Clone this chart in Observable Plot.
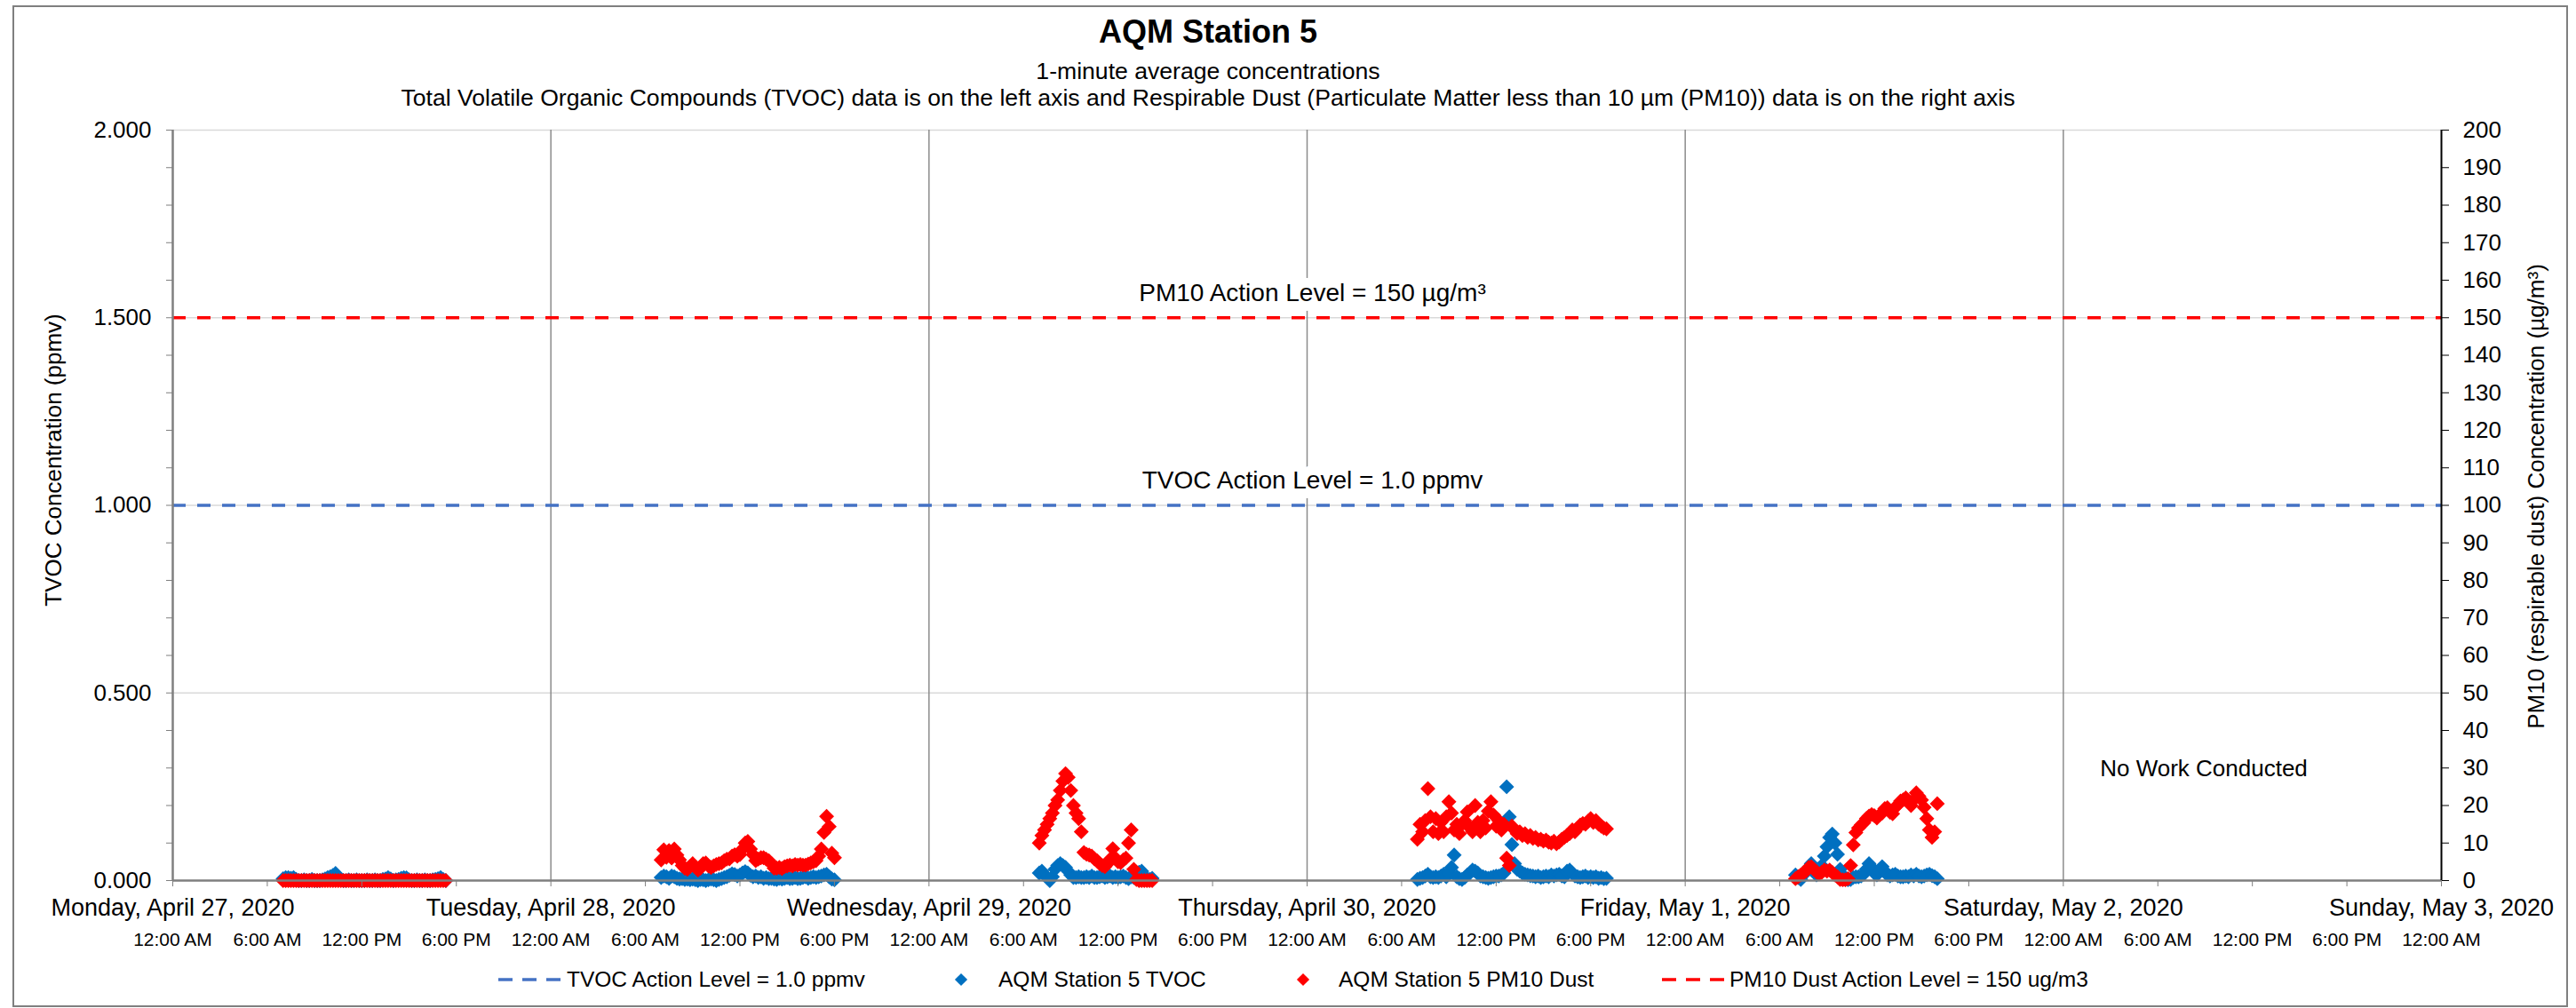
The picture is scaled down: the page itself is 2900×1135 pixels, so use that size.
<!DOCTYPE html>
<html>
<head>
<meta charset="utf-8">
<script src="https://cdn.jsdelivr.net/npm/d3@7"></script>
<script src="https://cdn.jsdelivr.net/npm/@observablehq/plot@0.6"></script>
<style>
  html, body { margin: 0; padding: 0; background: #fff; }
  #chart { position: relative; width: 2900px; height: 1135px; font-family: "Liberation Sans", Arial, sans-serif; color: #000; overflow: hidden; }
  #frame { position: absolute; left: 14px; top: 6px; width: 2877px; height: 1128px; border: 2px solid #7f7f7f; box-sizing: border-box; }
  .ttl { position: absolute; left: 0; width: 2720px; text-align: center; white-space: nowrap; }
  #title { top: 18px; font-size: 36px; line-height: 36px; font-weight: bold; }
  #sub1 { top: 67px; font-size: 26.6px; line-height: 26px; }
  #sub2 { top: 97px; font-size: 26.6px; line-height: 26px; }
  #plot { position: absolute; left: 0; top: 130px; }
  .rot { position: absolute; white-space: nowrap; font-size: 26px; line-height: 26px; transform: translate(-50%, -50%) rotate(-90deg); }
  .leg { position: absolute; top: 1091px; font-size: 24.5px; line-height: 24px; white-space: nowrap; }
  #legsym { position: absolute; left: 0; top: 1080px; }
</style>
</head>
<body>
<div id="chart">
  <div id="frame"></div>
  <div id="title" class="ttl"></div>
  <div id="sub1" class="ttl"></div>
  <div id="sub2" class="ttl"></div>
  <div id="plot"></div>
  <div id="ylabL" class="rot" style="left:60px; top:518px;"></div>
  <div id="ylabR" class="rot" style="left:2855px; top:559px;"></div>
  <svg id="legsym" width="2900" height="46"></svg>
  <div id="leg1" class="leg" style="left:638px;"></div>
  <div id="leg2" class="leg" style="left:1124px;"></div>
  <div id="leg3" class="leg" style="left:1507px;"></div>
  <div id="leg4" class="leg" style="left:1947px;"></div>
</div>
<script>
// ---------------- texts ----------------
const TITLE = "AQM Station 5";
const SUBTITLE1 = "1-minute average concentrations";
const SUBTITLE2 = "Total Volatile Organic Compounds (TVOC) data is on the left axis and Respirable Dust (Particulate Matter less than 10 µm (PM10)) data is on the right axis";
const Y_LEFT_LABEL = "TVOC Concentration (ppmv)";
const Y_RIGHT_LABEL = "PM10 (respirable dust) Concentration (µg/m³)";
const LEGEND_LABELS = ["TVOC Action Level = 1.0 ppmv", "AQM Station 5 TVOC", "AQM Station 5 PM10 Dust", "PM10 Dust Action Level = 150 ug/m3"];
const PM10_LEVEL_TEXT = "PM10 Action Level = 150 µg/m³";
const TVOC_LEVEL_TEXT = "TVOC Action Level = 1.0 ppmv";
const NO_WORK_TEXT = "No Work Conducted";

// ---------------- axes / categories ----------------
const DAY_LABELS = ["Monday, April 27, 2020", "Tuesday, April 28, 2020", "Wednesday, April 29, 2020",
  "Thursday, April 30, 2020", "Friday, May 1, 2020", "Saturday, May 2, 2020", "Sunday, May 3, 2020"];
const TIME_LABELS = ["12:00 AM", "6:00 AM", "12:00 PM", "6:00 PM"];
const LEFT_MAJOR_TICKS = [0, 0.5, 1.0, 1.5, 2.0];
const LEFT_MINOR_TICKS = [0, 0.1, 0.2, 0.3, 0.4, 0.5, 0.6, 0.7, 0.8, 0.9, 1.0, 1.1, 1.2, 1.3, 1.4, 1.5, 1.6, 1.7, 1.8, 1.9, 2.0];
const RIGHT_TICKS = [0, 10, 20, 30, 40, 50, 60, 70, 80, 90, 100, 110, 120, 130, 140, 150, 160, 170, 180, 190, 200];
const TVOC_ACTION = 1.0;   // ppmv (left axis)
const PM10_ACTION = 150;   // µg/m³ (right axis)
const RIGHT_PER_LEFT = 100; // 200 µg/m³ on right = 2.000 ppmv on left

// ---------------- data (10-minute readings from the picture) ----------------
const STEP_MIN = 10;
const monStart = Date.UTC(2020, 3, 27, 7, 0);
const tueStart = Date.UTC(2020, 3, 28, 7, 0);
const wedStart = Date.UTC(2020, 3, 29, 7, 0);
const thuStart = Date.UTC(2020, 3, 30, 7, 0);
const friStart = Date.UTC(2020, 4, 1, 7, 0);

const monTVOC = [.005,.008,.008,.006,.008,.003, 0,0,.002,0,0,.003, 0,0,0,.002,.004,.008,
  .010,.014,.019,.008,.003,0, 0,.002,0,0,.002,0, 0,0,.002,0,0,.002, 0,0,.003,.004,.008,.004,
  0,.002,.003,.006,.008,.007, .002,0,0,.002,0,0, .002,0,0,.002,.003,.005, .008,.003,0];
const monPM10 = [0,0,0,0,0,0, 0,0,0,0,0,0, 0,0,0,0,0,0, 0,0,0,0,0,0, 0,0,0,0,0,0, 0,0,0,0,0,0,
  0,0,0,0,0,0, 0,0,0,0,0,0, 0,0,0,0,0,0, 0,0,0,0,0,0, 0,0,0];

const tueTVOC = [.008,.012,.010,.006,.012,.010, .006,.004,.005,.003,.004,.002, .004,.002,0,.003,.002,0,
  .002,.004,.002,0,.003,.005, .008,.010,.014,.018,.016,.012, .015,.020,.024,.020,.014,.010,
  .012,.008,.010,.006,.008,.005, .006,.004,.003,.006,.004,.006, .008,.005,.006,.008,.005,.006,
  .008,.010,.006,.008,.010,.008, .010,.012,.015,.017,.010,.004, .002];
const tuePM10 = [5.5,8.2,6.2,8.0,6.0,8.4, 6.8,5.5,4.0,3.3,3.0,3.7, 4.5,3.7,2.8,3.3,4.5,4.7,
  3.9,3.5,3.9,4.3,4.5,4.7, 5.3,5.7,5.8,6.5,6.9,6.5, 6.9,8.4,10.0,10.4,8.4,6.9,
  5.3,5.7,6.1,6.1,5.7,5.3, 4.5,3.3,3.3,3.5,3.2,3.7, 3.9,4.1,3.9,4.3,4.1,4.3,
  4.1,4.1,4.4,4.7,5.0,5.3, 6.5,8.4,12.8,17.1,14.4,7.3, 6.1];

const wedTVOC = [.020,.025,.015,.008,0,.010, .030,.040,.045,.040,.035,.025, .015,.008,.008,.010,.008,.008,
  .010,.008,.012,.008,.008,.010, .012,.008,.010,.012,.008,.010, .008,.010,.012,.008,.005,.010,
  .008,.015,.022,.025,.012,.005, .003,.006];
const wedPM10 = [10,12,13.5,15,16.5,18, 20,21.5,24,26.5,28.5,27.5, 24,20,18,16.5,13,7.5,
  7,6.8,6.5,5.8,5.3,4.5, 4,3.7,4.5,5.7,8.5,6, 5,4.8,5.5,6,10,13.5,
  3,0.3,0,0,0,0, 0,0];

const thuTVOC = [.003,.006,.008,.012,.017,.010, .008,.010,.008,.012,.017,.010, .020,.035,.068,.010,.005,.003,
  .008,.015,.020,.028,.025,.020, .012,.010,.008,.006,.008,.010, .012,.012,.015,.020,.250,.170,
  .096,.045,.030,.025,.020,.017, .015,.013,.012,.010,.012,.008, .010,.012,.010,.015,.012,.015,
  .017,.012,.010,.025,.028,.020, .012,.010,.008,.010,.012,.008, .010,.008,.010,.006,.008,.005, .006];
const thuPM10 = [11,15,13,16,24.5,17, 13,16.5,12.5,15.5,13,17, 21,18,13.5,15,12.5,15,
  16,18.3,14,13,20,15.5, 13,16,14,18.5,21,17.5, 14.5,16,13.5,15,6,4,
  14.5,13.5,12.5,13,12,12.5, 11.5,12,11.2,11.5,10.8,11, 10.5,10.8,10.2,10,10.5,9.8,
  10.3,11,11.5,12,12.5,13.5, 13,14,14.8,15.2,15,15.8, 16.5,15.5,16,15,14.5,14, 13.8];

const friTVOC = [.015,.008,.003,.015,.025,.035, .045,.030,.015,.020,.040,.065, .090,.115,.124,.100,.070,.030,
  .015,.005,.002,.003,.008,.010, .010,.012,.017,.030,.045,.035, .020,.015,.025,.037,.025,.015,
  .012,.015,.017,.012,.010,.010, .012,.010,.015,.012,.017,.012, .010,.012,.015,.017,.013,.010, .005];
const friPM10 = [.5,1,1.5,2,2.5,3.5, 3.7,3,2.3,1.8,2.2,2.8, 2.5,2.8,2.2,1.5,1,.3,
  .2,.2,.5,4,9.5,12.8, 14,14.8,15.4,16.5,17.2,17.6, 17.3,16.7,17.5,18,19.2,19.4,
  18.2,17.8,19.5,20.2,21.2,21.5, 22,21.2,20,21.5,23.4,22.5, 21.5,19.5,16.5,13.5,11.5,13, 20.5];

// ---------------- colours ----------------
const TVOC_COLOR = "#0070C0";
const PM10_COLOR = "#FF0000";
const TVOC_LINE_COLOR = "#4472C4";
const PM10_LINE_COLOR = "#FF0000";

// ---------------- build tables ----------------
const STEP_MS = STEP_MIN * 60000;
function series(start, values) { return values.map((v, i) => ({ t: new Date(start + i * STEP_MS), v })); }
const tvocRows = [
  ...series(monStart, monTVOC), ...series(tueStart, tueTVOC), ...series(wedStart, wedTVOC),
  ...series(thuStart, thuTVOC), ...series(friStart, friTVOC)];
const pm10Rows = [
  ...series(monStart, monPM10), ...series(tueStart, tuePM10), ...series(wedStart, wedPM10),
  ...series(thuStart, thuPM10), ...series(friStart, friPM10)];

const X0 = Date.UTC(2020, 3, 27), DAY = 864e5;
const dayTicks = DAY_LABELS.map((_, i) => new Date(X0 + i * DAY));
const sixHourTicks = d3.range(0, 6 * 4 + 1).map(i => new Date(X0 + i * DAY / 4));
const xDomain = [dayTicks[0], dayTicks[dayTicks.length - 1]];

const annotations = [
  { t: dayTicks[3], y: PM10_ACTION / RIGHT_PER_LEFT, text: PM10_LEVEL_TEXT },
  { t: dayTicks[3], y: TVOC_ACTION, text: TVOC_LEVEL_TEXT }
];
const noWork = [{ t: new Date(Date.UTC(2020, 4, 2, 8, 55)), y: 0.298, text: NO_WORK_TEXT }];

const DIAMOND_R = 7.6;
const annoStyle = { x: "t", y: "y", dy: -28, dx: 6, text: "text", fontSize: 28 };

const chart = Plot.plot({
  width: 2900, height: 950,
  marginLeft: 194, marginRight: 152, marginTop: 16, marginBottom: 89,
  style: { fontFamily: "'Liberation Sans', Arial, sans-serif", fontSize: "26px", background: "transparent", overflow: "visible" },
  x: { type: "utc", domain: xDomain },
  y: { domain: [0, 2] },
  marks: [
    Plot.ruleY(LEFT_MAJOR_TICKS.slice(1), { stroke: "#d9d9d9", strokeWidth: 1.5 }),
    Plot.ruleX(dayTicks.slice(1, -1), { stroke: "#8c8c8c", strokeWidth: 1.5 }),
    Plot.ruleY([PM10_ACTION / RIGHT_PER_LEFT], { stroke: PM10_LINE_COLOR, strokeWidth: 3.5, strokeDasharray: "15,13" }),
    Plot.ruleY([TVOC_ACTION], { stroke: TVOC_LINE_COLOR, strokeWidth: 3.5, strokeDasharray: "15,13" }),
    Plot.text(annotations, { ...annoStyle, fill: "white", stroke: "white", strokeWidth: 22, strokeLinejoin: "round" }),
    Plot.text(annotations, { ...annoStyle, fill: "black" }),
    Plot.dot(tvocRows, { x: "t", y: "v", symbol: "diamond2", r: DIAMOND_R, fill: TVOC_COLOR }),
    Plot.dot(pm10Rows, { x: "t", y: d => d.v / RIGHT_PER_LEFT, symbol: "diamond2", r: DIAMOND_R, fill: PM10_COLOR }),
    Plot.text(noWork, { x: "t", y: "y", text: "text", fontSize: 26, fill: "black" }),
    Plot.ruleY([0], { stroke: "#7f7f7f", strokeWidth: 2.5 }),
    Plot.ruleX([xDomain[0]], { stroke: "#7f7f7f", strokeWidth: 2.5 }),
    Plot.ruleX([xDomain[1]], { stroke: "#000", strokeWidth: 2 }),
    Plot.axisY(LEFT_MINOR_TICKS, { anchor: "left", tickSize: 7, tickPadding: 17, label: null, fontSize: 26,
      stroke: "#7f7f7f", fill: "black",
      tickFormat: d => LEFT_MAJOR_TICKS.some(m => Math.abs(m - d) < 1e-9) ? d.toFixed(3) : "" }),
    Plot.axisY(RIGHT_TICKS.map(v => v / RIGHT_PER_LEFT), { anchor: "right", tickSize: 8, tickPadding: 16, label: null, fontSize: 26,
      stroke: "black", fill: "black", tickFormat: d => String(Math.round(d * RIGHT_PER_LEFT)) }),
    Plot.axisX(sixHourTicks, { anchor: "bottom", tickSize: 7, tickPadding: 52, label: null, fontSize: 21,
      stroke: "#7f7f7f", fill: "black", tickFormat: d => TIME_LABELS[d.getUTCHours() / 6] }),
    Plot.axisX(dayTicks, { anchor: "bottom", tickSize: 0, tickPadding: 20, label: null, fontSize: 27,
      fill: "black", tickFormat: d => DAY_LABELS[Math.round((d - X0) / DAY)] })
  ]
});
document.getElementById("plot").appendChild(chart);

// titles & axis labels
document.getElementById("title").textContent = TITLE;
document.getElementById("sub1").textContent = SUBTITLE1;
document.getElementById("sub2").textContent = SUBTITLE2;
document.getElementById("ylabL").textContent = Y_LEFT_LABEL;
document.getElementById("ylabR").textContent = Y_RIGHT_LABEL;

// legend
["leg1", "leg2", "leg3", "leg4"].forEach((id, i) => document.getElementById(id).textContent = LEGEND_LABELS[i]);
const leg = d3.select("#legsym");
const cy = 23;
leg.append("line").attr("x1", 561).attr("x2", 632).attr("y1", cy).attr("y2", cy)
  .attr("stroke", TVOC_LINE_COLOR).attr("stroke-width", 3.5).attr("stroke-dasharray", "16,11");
leg.append("line").attr("x1", 1871).attr("x2", 1942).attr("y1", cy).attr("y2", cy)
  .attr("stroke", PM10_LINE_COLOR).attr("stroke-width", 3.5).attr("stroke-dasharray", "16,11");
const dia = d3.symbol(d3.symbolDiamond2, 6.4 * 6.4 * Math.PI);
leg.append("path").attr("d", dia()).attr("transform", `translate(1082,${cy})`).attr("fill", TVOC_COLOR);
leg.append("path").attr("d", dia()).attr("transform", `translate(1467,${cy})`).attr("fill", PM10_COLOR);
</script>
</body>
</html>
